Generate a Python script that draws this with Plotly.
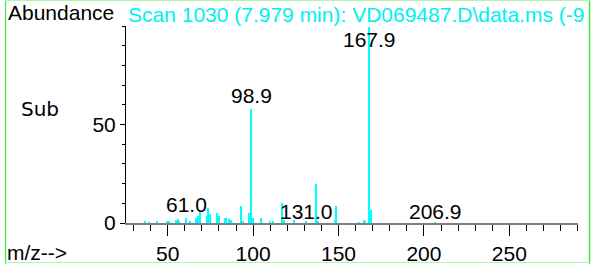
import plotly.graph_objects as go

# ---- data ----
mz = [37.0, 39.0, 44.0, 50.0, 51.0, 55.0, 56.0, 57.0, 61.0, 63.0,
      67.0, 68.0, 69.0, 73.0, 74.0, 75.0, 79.0, 80.0, 84.0, 86.0,
      87.0, 92.9, 94.0, 97.9, 98.9, 100.0, 105.0, 110.0, 112.0, 116.9,
      118.0, 123.9, 131.0, 136.9, 138.0, 147.9, 148.9, 162.0, 164.9, 165.9,
      167.9, 169.0, 206.9]
abundance = [0.8, 0.4, 1.0, 0.8, 1.0, 1.5, 1.8, 1.0, 2.5, 1.0,
             2.5, 3.5, 5.5, 3.5, 7.8, 4.5, 5.0, 3.8, 2.5, 1.8,
             1.6, 8.8, 1.0, 5.0, 58.0, 2.5, 2.5, 0.7, 0.6, 10.0,
             1.5, 1.5, 0.7, 20.0, 1.2, 1.5, 8.5, 0.4, 1.5, 1.2,
             99.5, 6.5, 0.5]
peak_labels = ["167.9", "98.9", "61.0", "131.0", "206.9"]
x_ticks = [50, 100, 150, 200, 250]
y_ticks = [0, 50]
title_text = "Scan 1030 (7.979 min): VD069487.D\\data.ms (-9"

# ---- layout geometry (pixels) ----
W, H = 592, 264
L, R, T, B = 126, 14, 26, 41
pw, ph = W - L - R, H - T - B
FONT = "Liberation Sans, Arial, sans-serif"
CYAN = "#00f0f0"


def px_x(px):
    return (px - L) / pw


def px_y(py):
    return (H - B - py) / ph


fig = go.Figure()
fig.add_trace(go.Bar(x=mz, y=abundance, width=0.9,
                     marker=dict(color="#00ffff", line=dict(width=0)),
                     showlegend=False, hoverinfo="x+y"))

# peak labels (positions in data coordinates)
label_pos = {"167.9": 93.0, "98.9": 64.5, "61.0": 9.3, "131.0": 5.8, "206.9": 5.8}
annotations = []
for lab in peak_labels:
    annotations.append(dict(x=float(lab), y=label_pos[lab], xref="x", yref="y",
                            text=lab, showarrow=False, xanchor="center", yanchor="middle",
                            font=dict(family=FONT, size=21, color="black")))

annotations += [
    dict(x=px_x(6), y=px_y(13), xref="paper", yref="paper", text="Abundance",
         showarrow=False, xanchor="left", yanchor="middle",
         font=dict(family=FONT, size=21, color="black")),
    dict(x=px_x(126), y=px_y(15), xref="paper", yref="paper", text=title_text,
         showarrow=False, xanchor="left", yanchor="middle", align="left", width=460,
         font=dict(family=FONT, size=21, color=CYAN)),
    dict(x=px_x(19), y=px_y(109), xref="paper", yref="paper", text="Sub",
         showarrow=False, xanchor="left", yanchor="middle",
         font=dict(family="DejaVu Sans, Verdana, sans-serif", size=20, color="black")),
    dict(x=px_x(5), y=px_y(252), xref="paper", yref="paper", text="m/z-->",
         showarrow=False, xanchor="left", yanchor="middle",
         font=dict(family=FONT, size=21, color="black")),
]

# green frame
shapes = [
    dict(type="line", xref="paper", yref="paper", x0=px_x(5.5), x1=px_x(5.5), y0=px_y(0), y1=px_y(264),
         line=dict(color="#44e844", width=1.2)),
    dict(type="line", xref="paper", yref="paper", x0=px_x(589.5), x1=px_x(589.5), y0=px_y(0), y1=px_y(264),
         line=dict(color="#44e844", width=1.5)),
    dict(type="line", xref="paper", yref="paper", x0=px_x(5), x1=px_x(590), y0=px_y(0.5), y1=px_y(0.5),
         line=dict(color="#b0f5b0", width=1)),
    dict(type="line", xref="paper", yref="paper", x0=px_x(5), x1=px_x(590), y0=px_y(262.5), y1=px_y(262.5),
         line=dict(color="#b0f5b0", width=1)),
]

fig.update_layout(
    width=W, height=H, autosize=False,
    margin=dict(l=L, r=R, t=T, b=B, pad=0, autoexpand=False),
    paper_bgcolor="white", plot_bgcolor="white",
    bargap=0,
    annotations=annotations,
    shapes=shapes,
    font=dict(family=FONT, size=21, color="black"),
    xaxis=dict(range=[25.6, 290.2], tickvals=x_ticks, ticks="outside", ticklen=11,
               tickcolor="black", tickwidth=1, showline=True, linecolor="#808080", linewidth=1.5,
               showgrid=False, zeroline=False, tickfont=dict(family=FONT, size=21, color="black"),
               minor=dict(dtick=10, tick0=0, ticks="outside", ticklen=6, tickcolor="black", tickwidth=1),
               fixedrange=True, automargin=False),
    yaxis=dict(range=[0, 100], tickvals=y_ticks, ticks="outside", ticklen=5,
               tickcolor="black", tickwidth=1, showline=True, linecolor="black", linewidth=1,
               showgrid=False, zeroline=False, tickfont=dict(family=FONT, size=21, color="black"),
               minor=dict(dtick=10, tick0=0, ticks="outside", ticklen=3, tickcolor="black", tickwidth=1),
               fixedrange=True, automargin=False),
)

fig.write_html("out.html", config={"displayModeBar": False, "responsive": False},
               post_script="document.body.style.margin='0';document.body.style.overflow='hidden';")
